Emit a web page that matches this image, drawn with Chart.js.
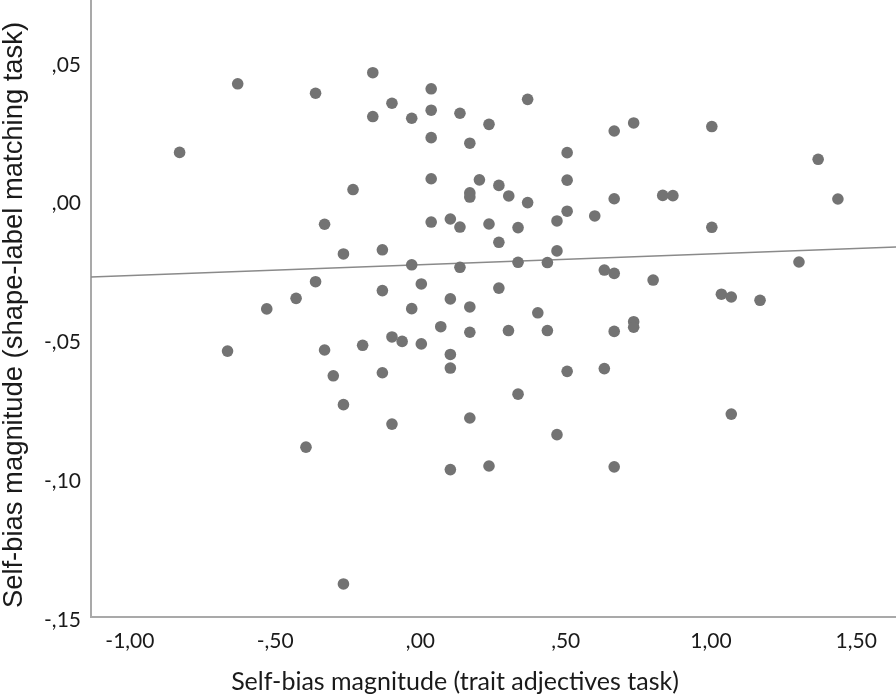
<!DOCTYPE html>
<html>
<head>
<meta charset="utf-8">
<script src="https://cdn.jsdelivr.net/npm/chart.js@4.4.1/dist/chart.umd.min.js"></script>
<style>
  html, body { margin: 0; padding: 0; background: #fff; }
  canvas { display: block; }
</style>
</head>
<body>
<canvas id="biasChart" width="896" height="698"></canvas>
<script>
// Self-bias magnitude: trait adjectives task (x) vs shape-label matching task (y)
const traitBias = [
  -0.829, -0.629, -0.664, -0.529,
  -0.164, -0.361, 0.037, -0.098, -0.164, -0.030, 0.037, 0.136, 0.236, 0.369,
  0.037, 0.170, 0.505, 0.037, 0.203, 0.270, 0.170, 0.170, 0.304, 0.369,
  0.505, -0.232, 0.505, 0.470, 0.600, -0.330, 0.037, 0.103, 0.136, 0.236,
  0.336, 0.270, -0.265, -0.131, 0.470, -0.030, 0.136, 0.336, 0.437, -0.361,
  -0.428, -0.131, 0.003, 0.103, 0.270, -0.030, 0.170, 0.404,
  0.070, 0.170, 0.303, 0.437, -0.098, -0.063, 0.003, -0.199, -0.330, 0.103,
  0.103, -0.300, -0.131, 0.505, -0.265, 0.336, 0.170, -0.098, 0.470, -0.394,
  0.103, 0.236, -0.265,
  0.667, 0.734, 1.003, 1.369, 0.667, 0.834, 0.869, 1.003, 1.437, 1.303,
  0.633, 0.667, 0.801, 1.036, 1.070, 1.169, 0.734, 0.734, 0.667, 0.633,
  1.070, 0.667
];
const shapeBias = [
  0.0185, 0.0432, -0.0531, -0.0379,
  0.0472, 0.0398, 0.0414, 0.0362, 0.0314, 0.0308, 0.0337, 0.0326, 0.0286, 0.0376,
  0.0238, 0.0218, 0.0184, 0.0090, 0.0086, 0.0066, 0.0039, 0.0024, 0.0028, 0.0004,
  0.0085, 0.0051, -0.0027, -0.0062, -0.0044, -0.0074, -0.0066, -0.0055, -0.0084, -0.0073,
  -0.0086, -0.0139, -0.0181, -0.0166, -0.0170, -0.0220, -0.0229, -0.0211, -0.0212, -0.0281,
  -0.0341, -0.0313, -0.0289, -0.0343, -0.0304, -0.0378, -0.0372, -0.0393,
  -0.0443, -0.0463, -0.0457, -0.0457, -0.0480, -0.0496, -0.0505, -0.0510, -0.0527, -0.0543,
  -0.0592, -0.0620, -0.0609, -0.0604, -0.0724, -0.0686, -0.0772, -0.0794, -0.0832, -0.0877,
  -0.0958, -0.0945, -0.1370,
  0.0262, 0.0291, 0.0278, 0.0160, 0.0018, 0.0030, 0.0029, -0.0085, 0.0017, -0.0210,
  -0.0239, -0.0251, -0.0275, -0.0326, -0.0336, -0.0348, -0.0425, -0.0445, -0.0460, -0.0594,
  -0.0758, -0.0948
];

// linear fit line
const fitIntercept = -0.0220;
const fitSlope = 0.0039;

const xRange = [-1.134, 1.637];
const yRange = [-0.1489, 0.0734];
const xTicks = [-1, -0.5, 0, 0.5, 1, 1.5];
const xTickLabels = ['-1,00', '-,50', ',00', ',50', '1,00', '1,50'];
const yTicks = [-0.15, -0.10, -0.05, 0, 0.05];
const yTickLabels = ['-,15', '-,10', '-,05', ',00', ',05'];

const xTitle = 'Self-bias magnitude (trait adjectives task)';
const yTitle = 'Self-bias magnitude (shape-label matching task)';

const points = traitBias.map((x, i) => ({ x: x, y: shapeBias[i] }));
const fitLine = xRange.map(x => ({ x: x, y: fitIntercept + fitSlope * x }));

// axis titles placed like the SPSS output
const axisTitles = {
    id: 'axisTitles',
    afterDraw(chart) {
        const ctx = chart.ctx;
        ctx.save();
        ctx.fillStyle = '#1a1a1a';
        ctx.textAlign = 'center';
        ctx.textBaseline = 'middle';
        ctx.font = '25px Lato';
        ctx.fillText(xTitle, 455, 682);
        ctx.translate(14, 315);
        ctx.rotate(-Math.PI / 2);
        ctx.font = '27.4px "Liberation Sans"';
        ctx.fillText(yTitle, 0, 0);
        ctx.restore();
    }
};

// no extra room around the plot for edge labels
function noEdgePadding(scale) {
    scale.paddingTop = 0;
    scale.paddingBottom = 0;
    scale.paddingLeft = 0;
    scale.paddingRight = 0;
}

Chart.defaults.font.family = 'Lato';

document.addEventListener('DOMContentLoaded', function() {
    const ctx = document.getElementById('biasChart').getContext('2d');
    const biasChart = new Chart(ctx, {
        type: 'scatter',
        data: {
            datasets: [{
                label: 'Participants',
                data: points,
                backgroundColor: 'rgb(115, 115, 115)',
                borderWidth: 0,
                pointRadius: 5.8,
                order: 1
            }, {
                type: 'line',
                label: 'Fit',
                data: fitLine,
                borderColor: '#8a8a8a',
                borderWidth: 1.5,
                pointRadius: 0,
                fill: false,
                order: 2
            }]
        },
        options: {
            responsive: false,
            animation: false,
            layout: { padding: 0, autoPadding: false },
            plugins: {
                legend: { display: false },
                tooltip: { enabled: false }
            },
            scales: {
                x: {
                    type: 'linear',
                    min: xRange[0],
                    max: xRange[1],
                    grid: { display: false, drawTicks: false },
                    border: { display: true, color: '#a9a9a9', width: 2 },
                    afterBuildTicks: function(scale) {
                        scale.ticks = xTicks.map(v => ({ value: v }));
                    },
                    afterFit: function(scale) {
                        scale.height = 81;
                        noEdgePadding(scale);
                    },
                    ticks: {
                        padding: 12,
                        color: '#1a1a1a',
                        font: { size: 21 },
                        maxRotation: 0,
                        callback: function(value, index) { return xTickLabels[index]; }
                    }
                },
                y: {
                    type: 'linear',
                    min: yRange[0],
                    max: yRange[1],
                    grid: { display: false, drawTicks: false },
                    border: { display: true, color: '#a9a9a9', width: 2 },
                    afterBuildTicks: function(scale) {
                        scale.ticks = yTicks.map(v => ({ value: v }));
                    },
                    afterFit: function(scale) {
                        scale.width = 91;
                        noEdgePadding(scale);
                    },
                    ticks: {
                        padding: 10,
                        color: '#1a1a1a',
                        font: { size: 21 },
                        callback: function(value, index) { return yTickLabels[index]; }
                    }
                }
            }
        },
        plugins: [axisTitles]
    });
});
</script>
</body>
</html>
